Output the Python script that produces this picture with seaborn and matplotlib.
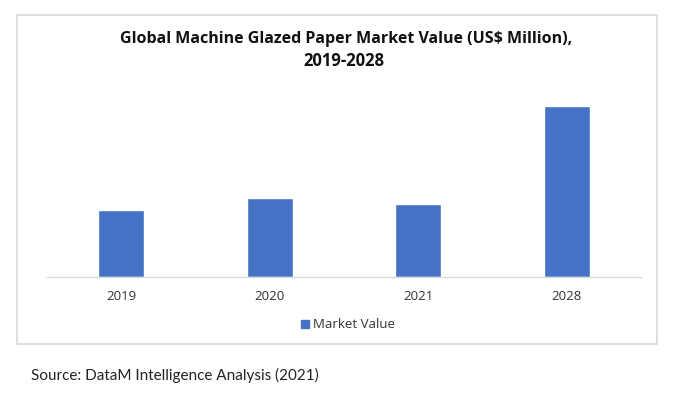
import pandas as pd
import seaborn as sns
import matplotlib.pyplot as plt
from matplotlib.patches import Rectangle

sns.set_style("white")
plt.rcParams['font.family'] = ['Open Sans', 'DejaVu Sans']

years = ["2019", "2020", "2021", "2028"]
market_value = [66.7, 79.3, 72.7, 171.0]
series_name = "Market Value"

df = pd.DataFrame({"year": years, "value": market_value, "series": series_name})

fig = plt.figure(figsize=(6.76, 3.98), dpi=100)
fig.patch.set_facecolor("white")

# outer chart border
fig.patches.append(Rectangle((17 / 676, 1 - 344 / 398), 640 / 676, 329 / 398,
                             transform=fig.transFigure, fill=False,
                             edgecolor="#D9D9D9", linewidth=1.2))

ax = fig.add_axes([47 / 676, 1 - 277 / 398, 594 / 676, 180 / 398])
sns.barplot(data=df, x="year", y="value", hue="series", palette=["#4472C4"],
            saturation=1, width=0.31, ax=ax, legend=False)
ax.set_xlim(-0.5, 3.5)
ax.set_ylim(0, 180)
ax.set_xlabel("")
ax.set_ylabel("")
ax.set_yticks([])
for s in ["top", "right", "left"]:
    ax.spines[s].set_visible(False)
ax.spines["bottom"].set_color("#D9D9D9")
ax.spines["bottom"].set_linewidth(1.0)
ax.tick_params(axis="x", length=0, pad=9, labelsize=9.5, labelcolor="#333333")

fig.text(346 / 676, 1 - 39 / 398, "Global Machine Glazed Paper Market Value (US$ Million),",
         ha="center", va="center", fontsize=11.5, fontweight="bold", color="#111111")
fig.text(344 / 676, 1 - 61 / 398, "2019-2028",
         ha="center", va="center", fontsize=12, fontweight="bold", color="#111111")

# legend
fig.patches.append(Rectangle((301 / 676, 1 - 328 / 398), 8 / 676, 8 / 398,
                             transform=fig.transFigure, color="#4472C4"))
fig.text(313 / 676, 1 - 324 / 398, series_name, ha="left", va="center",
         fontsize=9.5, color="#333333")

fig.text(31 / 676, 1 - 375 / 398, "Source: DataM Intelligence Analysis (2021)",
         ha="left", va="center", fontsize=11, color="#222222", family=["Lato", "DejaVu Sans"])

fig.savefig("out.png", dpi=100, facecolor="white")
